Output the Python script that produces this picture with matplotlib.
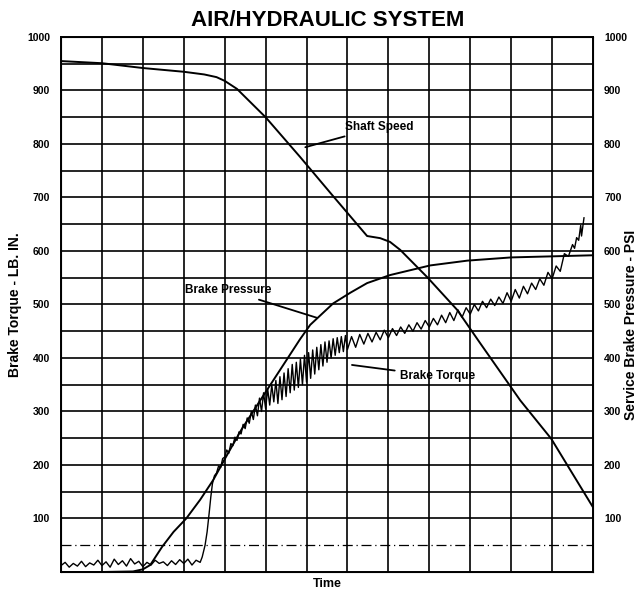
import matplotlib
matplotlib.use("Agg")
import matplotlib.pyplot as plt

plt.rcParams['font.family'] = ['Liberation Sans', 'DejaVu Sans']
plt.rcParams['font.weight'] = 'bold'

# ============================
# Data (time in grid columns, values on 0-1000 scale)
# ============================
speed_t = [0.0, 1.0, 2.0, 3.0, 3.5, 3.8, 4.0, 4.3, 5.0, 5.84, 6.6, 7.48, 7.8, 8.04,
           8.29, 8.95, 9.68, 10.24, 11.22, 11.98, 13.0]
speed_v = [955, 951, 942, 935, 930, 925, 918, 903, 850, 776, 707, 628, 624, 617,
           602, 551, 490, 428, 321, 249, 121]

pressure_t = [0.0, 1.0, 1.76, 2.0, 2.18, 2.47, 2.75, 3.06, 3.4, 3.72, 4.03, 4.4, 4.87,
              5.5, 5.84, 6.09, 6.65, 7.07, 7.48, 8.04, 9.02, 9.93, 11.0, 12.0, 13.0]
pressure_v = [0, 0, 1, 5, 13, 47, 75, 100, 135, 172, 215, 265, 321,
              395, 435, 462, 502, 522, 540, 555, 573, 582, 588, 590, 592]

torque_t = [0.0, 0.1, 0.2, 0.3, 0.4, 0.5, 0.6, 0.7, 0.8, 0.9, 1.0, 1.1, 1.2, 1.3, 1.4,
            1.5, 1.6, 1.7, 1.8, 1.9, 2.0, 2.1, 2.2, 2.3, 2.4, 2.5, 2.6, 2.7, 2.8, 2.9,
            3.0, 3.1, 3.2, 3.3, 3.4, 3.45,
            3.52, 3.57, 3.62, 3.66, 3.7, 3.75, 3.8, 3.85, 3.9, 3.95, 4.0, 4.05, 4.1,
            4.15, 4.2, 4.25, 4.3, 4.35, 4.4, 4.45, 4.5, 4.55, 4.6, 4.65, 4.7, 4.75,
            4.8, 4.85, 4.9, 4.95, 5.0, 5.05, 5.1, 5.15, 5.2, 5.25, 5.3, 5.35, 5.4,
            5.45, 5.5, 5.55, 5.6, 5.65, 5.7, 5.75, 5.8, 5.85, 5.9, 5.95, 6.0, 6.05,
            6.1, 6.15, 6.2, 6.25, 6.3, 6.35, 6.4, 6.45, 6.5, 6.55, 6.6, 6.65, 6.7,
            6.75, 6.8, 6.85, 6.9, 6.95, 7.0, 7.1, 7.2, 7.3, 7.4, 7.5, 7.6, 7.7, 7.8,
            7.9, 8.0, 8.1, 8.2, 8.3, 8.4, 8.5, 8.6, 8.7, 8.8, 8.9, 9.0, 9.1, 9.2, 9.3,
            9.4, 9.5, 9.6, 9.7, 9.8, 9.9, 10.0, 10.1, 10.2, 10.3, 10.4, 10.5, 10.6,
            10.7, 10.8, 10.9, 11.0, 11.1, 11.2, 11.3, 11.4, 11.5, 11.6, 11.7, 11.8,
            11.9, 12.0, 12.1, 12.2, 12.3, 12.4, 12.5, 12.55, 12.6, 12.65, 12.7,
            12.72, 12.78]
torque_v = [12, 18, 9, 16, 11, 20, 10, 17, 13, 22, 12, 19, 9, 24, 14,
            21, 11, 25, 15, 20, 10, 18, 13, 22, 16, 19, 12, 21, 14, 23,
            16, 24, 13, 22, 18, 28,
            50, 75, 110, 140, 165, 180, 185, 198, 195, 212, 215, 228, 222,
            240, 236, 252, 246, 262, 258, 276, 268, 288, 278, 300, 285, 312,
            292, 325, 300, 335, 305, 342, 312, 350, 318, 358, 315, 365, 322,
            372, 328, 380, 335, 388, 340, 392, 345, 398, 350, 405, 355, 410,
            362, 415, 370, 420, 378, 425, 385, 430, 392, 432, 400, 436, 405,
            438, 410, 440, 412, 442, 416, 440, 420, 444, 426, 446, 430, 448, 434,
            452, 438, 455, 442, 458, 446, 462, 450, 466, 454, 470, 458, 474, 462, 480,
            466, 485, 470, 490, 476, 494, 482, 500, 488, 506, 494, 510, 498,
            514, 502, 522, 506, 528, 512, 534, 520, 540, 528, 548, 536,
            560, 548, 572, 562, 595, 590, 612, 605, 625, 620, 648,
            628, 662]

y_ticks = [100, 200, 300, 400, 500, 600, 700, 800, 900, 1000]

# ============================
# Figure
# ============================
fig = plt.figure(figsize=(6.41, 5.92), dpi=100)
ax = fig.add_axes([0.0952, 0.0338, 0.8299, 0.9037])
ax.set_xlim(0, 13)
ax.set_ylim(0, 1000)

# grid
for gx in range(1, 13):
    ax.axvline(gx, color="black", lw=1.2, zorder=1)
for gy in range(50, 1000, 50):
    if gy == 50:
        ax.axhline(gy, color="black", lw=0.9, ls=(0, (8, 3, 1, 3)), zorder=1)
    else:
        ax.axhline(gy, color="black", lw=1.2, zorder=1)
for s in ax.spines.values():
    s.set_linewidth(1.4)

ax.plot(speed_t, speed_v, color="black", lw=1.4, zorder=3)
ax.plot(pressure_t, pressure_v, color="black", lw=1.4, zorder=3)
ax.plot(torque_t, torque_v, color="black", lw=1.0, zorder=3)

# labels on curves
ann = dict(arrowstyle="-", color="black", lw=1.3, shrinkA=2, shrinkB=0)
ax.annotate("Shaft Speed", xy=(5.97, 794), xytext=(6.94, 832), fontsize=8.5,
            fontweight="bold", va="center", ha="left", arrowprops=ann)
ax.annotate("Brake Pressure", xy=(6.26, 475), xytext=(3.03, 527), fontsize=8.5,
            fontweight="bold", va="center", ha="left", arrowprops=ann)
ax.annotate("Brake Torque", xy=(7.11, 387), xytext=(8.29, 366), fontsize=8.5,
            fontweight="bold", va="center", ha="left", arrowprops=ann)

ax.set_xticks([])
ax.set_yticks(y_ticks)
ax.set_yticklabels([str(v) for v in y_ticks], fontsize=7.5, fontweight="bold")
ax.tick_params(axis="y", length=0, pad=8)

ax2 = ax.twinx()
ax2.set_ylim(0, 1000)
ax2.set_yticks(y_ticks)
ax2.set_yticklabels([str(v) for v in y_ticks], fontsize=7.5, fontweight="bold")
ax2.tick_params(axis="y", length=0, pad=8)

fig.text(0.024, 0.485, "Brake Torque - LB. IN.", rotation=90, ha="center",
         va="center", fontsize=10, fontweight="bold")
fig.text(0.985, 0.451, "Service Brake Pressure - PSI", rotation=90, ha="center",
         va="center", fontsize=10, fontweight="bold")
ax.set_xlabel("Time", fontsize=9, fontweight="bold", labelpad=4)

fig.text(0.511, 0.966, "AIR/HYDRAULIC SYSTEM", ha="center", va="center",
         fontsize=16, fontweight="bold")

fig.savefig("out.png", dpi=100)
plt.close(fig)
